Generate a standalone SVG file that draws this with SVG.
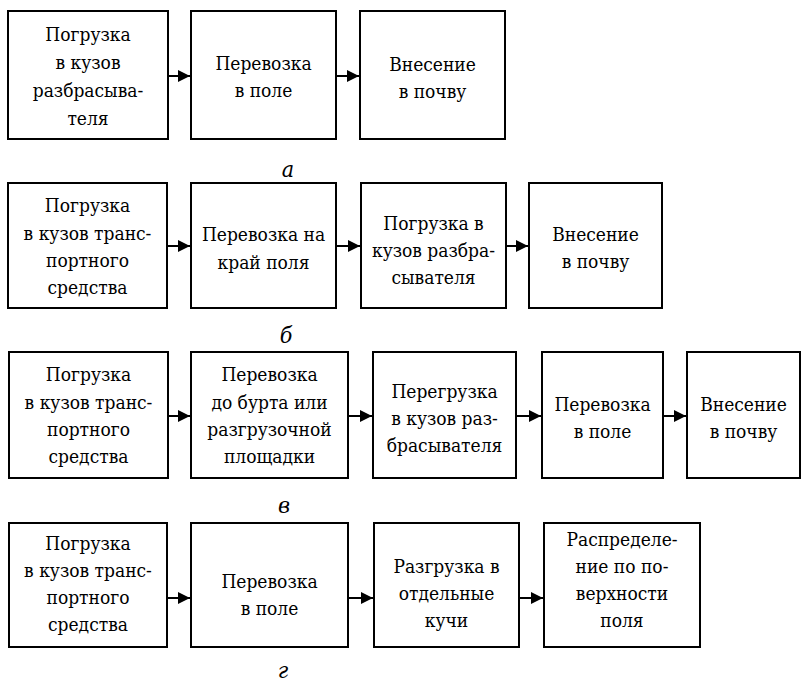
<svg xmlns="http://www.w3.org/2000/svg" width="803" height="685" viewBox="0 0 803 685">
<defs>
<marker id="ah" markerUnits="userSpaceOnUse" markerWidth="14" markerHeight="14" refX="12" refY="6" orient="auto">
<path d="M0,0 L12,6 L0,12 z" fill="#000"/>
</marker>
<style>
.box{fill:#fff;stroke:#000;stroke-width:2}
.t{font-family:'DejaVu Serif Condensed','DejaVu Serif',serif;font-stretch:condensed;font-size:19px;text-anchor:middle;fill:#000}
.lbl{font-family:'DejaVu Serif Condensed','DejaVu Serif',serif;font-stretch:condensed;font-size:23px;font-style:italic;text-anchor:middle;fill:#000}
.arr{stroke:#000;stroke-width:2;fill:none;marker-end:url(#ah)}
</style>
</defs>
<rect width="803" height="685" fill="#fff"/>

<!-- Row a -->
<g id="a1"><rect class="box" x="8" y="11" width="160" height="128"/>
<text class="t"><tspan x="88" y="41">Погрузка</tspan><tspan x="88" y="69">в кузов</tspan><tspan x="88" y="97">разбрасыва-</tspan><tspan x="88" y="125">теля</tspan></text></g>
<g id="a2"><rect class="box" x="191" y="11" width="145" height="128"/>
<text class="t"><tspan x="263.5" y="70">Перевозка</tspan><tspan x="263.5" y="97">в поле</tspan></text></g>
<g id="a3"><rect class="box" x="360" y="11" width="145" height="128"/>
<text class="t"><tspan x="432.5" y="71">Внесение</tspan><tspan x="432.5" y="98">в почву</tspan></text></g>
<text class="lbl" x="288" y="177">а</text>

<!-- Row b -->
<g id="b1"><rect class="box" x="8" y="183" width="159" height="125"/>
<text class="t"><tspan x="87.5" y="212">Погрузка</tspan><tspan x="87.5" y="240">в кузов транс-</tspan><tspan x="87.5" y="267">портного</tspan><tspan x="87.5" y="294">средства</tspan></text></g>
<g id="b2"><rect class="box" x="191" y="183" width="145" height="125"/>
<text class="t"><tspan x="263.5" y="241">Перевозка на</tspan><tspan x="263.5" y="269">край поля</tspan></text></g>
<g id="b3"><rect class="box" x="361" y="183" width="145" height="125"/>
<text class="t"><tspan x="433.5" y="230">Погрузка в</tspan><tspan x="433.5" y="257">кузов разбра-</tspan><tspan x="433.5" y="284">сывателя</tspan></text></g>
<g id="b4"><rect class="box" x="529" y="183" width="133" height="125"/>
<text class="t"><tspan x="595.5" y="241">Внесение</tspan><tspan x="595.5" y="268">в почву</tspan></text></g>
<text class="lbl" x="286" y="343">б</text>

<!-- Row v -->
<g id="v1"><rect class="box" x="9" y="352" width="159" height="126"/>
<text class="t"><tspan x="88.5" y="381">Погрузка</tspan><tspan x="88.5" y="409">в кузов транс-</tspan><tspan x="88.5" y="436">портного</tspan><tspan x="88.5" y="463">средства</tspan></text></g>
<g id="v2"><rect class="box" x="191" y="352" width="157" height="126"/>
<text class="t"><tspan x="269.5" y="381">Перевозка</tspan><tspan x="269.5" y="409">до бурта или</tspan><tspan x="269.5" y="436">разгрузочной</tspan><tspan x="269.5" y="463">площадки</tspan></text></g>
<g id="v3"><rect class="box" x="373" y="352" width="143" height="126"/>
<text class="t"><tspan x="444.5" y="398">Перегрузка</tspan><tspan x="444.5" y="425">в кузов раз-</tspan><tspan x="444.5" y="452">брасывателя</tspan></text></g>
<g id="v4"><rect class="box" x="542" y="352" width="121" height="126"/>
<text class="t"><tspan x="602.5" y="411">Перевозка</tspan><tspan x="602.5" y="438">в поле</tspan></text></g>
<g id="v5"><rect class="box" x="687" y="352" width="113" height="126"/>
<text class="t"><tspan x="743.5" y="411">Внесение</tspan><tspan x="743.5" y="438">в почву</tspan></text></g>
<text class="lbl" x="284" y="513">в</text>

<!-- Row g -->
<g id="g1"><rect class="box" x="9" y="523" width="158" height="124"/>
<text class="t"><tspan x="88" y="550">Погрузка</tspan><tspan x="88" y="577">в кузов транс-</tspan><tspan x="88" y="604">портного</tspan><tspan x="88" y="631">средства</tspan></text></g>
<g id="g2"><rect class="box" x="191" y="523" width="157" height="124"/>
<text class="t"><tspan x="269.5" y="588">Перевозка</tspan><tspan x="269.5" y="615">в поле</tspan></text></g>
<g id="g3"><rect class="box" x="374" y="523" width="145" height="124"/>
<text class="t"><tspan x="446.5" y="573">Разгрузка в</tspan><tspan x="446.5" y="600">отдельные</tspan><tspan x="446.5" y="627">кучи</tspan></text></g>
<g id="g4"><rect class="box" x="544" y="523" width="156" height="124"/>
<text class="t"><tspan x="622" y="546">Распределе-</tspan><tspan x="622" y="573">ние по по-</tspan><tspan x="622" y="600">верхности</tspan><tspan x="622" y="627">поля</tspan></text></g>
<text class="lbl" x="283" y="678">г</text>

<g id="connectors">
<line class="arr" x1="169" y1="76" x2="190" y2="76"/>
<line class="arr" x1="337" y1="76" x2="359" y2="76"/>
<line class="arr" x1="168" y1="246" x2="190" y2="246"/>
<line class="arr" x1="337" y1="246" x2="360" y2="246"/>
<line class="arr" x1="507" y1="246" x2="528" y2="246"/>
<line class="arr" x1="169" y1="416" x2="190" y2="416"/>
<line class="arr" x1="349" y1="416" x2="372" y2="416"/>
<line class="arr" x1="517" y1="416" x2="541" y2="416"/>
<line class="arr" x1="664" y1="416" x2="686" y2="416"/>
<line class="arr" x1="168" y1="598" x2="190" y2="598"/>
<line class="arr" x1="349" y1="598" x2="373" y2="598"/>
<line class="arr" x1="520" y1="598" x2="543" y2="598"/>
</g>
</svg>
